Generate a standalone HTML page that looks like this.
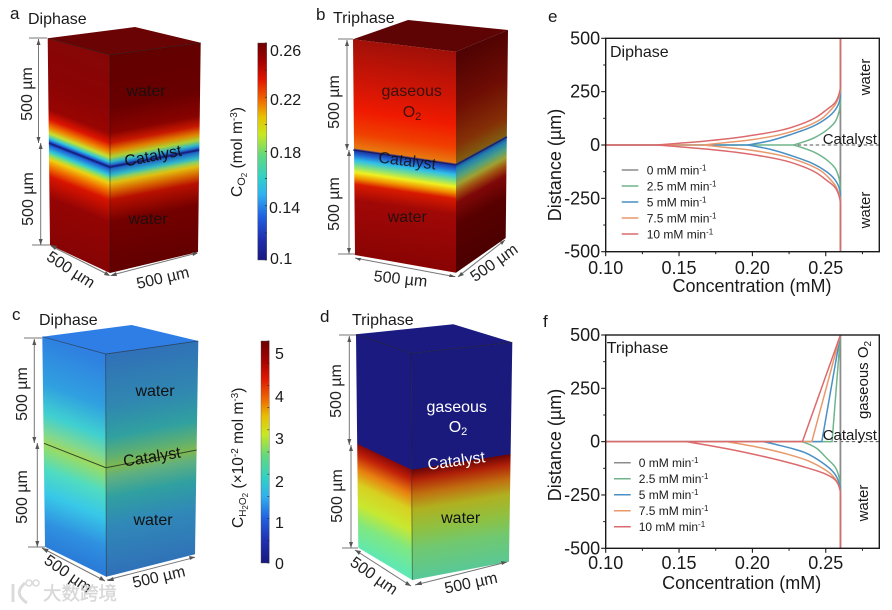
<!DOCTYPE html>
<html lang="en">
<head>
<meta charset="utf-8">
<title>Oxygen and peroxide concentration profiles</title>
<style>
html,body{margin:0;padding:0;background:#fff;}
svg{display:block;font-family:"Liberation Sans","Noto Sans CJK SC",sans-serif;fill:#1a1a1a;filter:blur(.35px);}
.t16{font-size:16px}
.dim{font-size:16px;text-anchor:middle;fill:#222}
.lab{font-size:16px;text-anchor:middle;fill:#111}
.cb{font-size:16px;fill:#1a1a1a}
.edge{stroke:#1c1c1c;stroke-opacity:.65;stroke-width:.7;fill:none}
.arr{stroke:#777;stroke-width:1;fill:none}
.arrh{fill:#555}
</style>
</head>
<body>
<svg id="fig" xmlns="http://www.w3.org/2000/svg" width="892" height="610" viewBox="0 0 892 610">
<defs id="defs">
  <linearGradient id="cbar" x1="0" y1="0" x2="0" y2="1">
    <stop offset="0" stop-color="#6e0000"/><stop offset=".08" stop-color="#a00000"/><stop offset=".17" stop-color="#e01500"/>
    <stop offset=".27" stop-color="#f07000"/><stop offset=".34" stop-color="#e8c000"/><stop offset=".42" stop-color="#c8e820"/>
    <stop offset=".52" stop-color="#60d880"/><stop offset=".62" stop-color="#30d0c8"/><stop offset=".70" stop-color="#30b0f0"/>
    <stop offset=".80" stop-color="#2060e0"/><stop offset=".9" stop-color="#2030b0"/><stop offset="1" stop-color="#181880"/>
  </linearGradient>
</defs>

<!-- Panel a -->
<g>
  <text x="10" y="19" font-size="17">a</text>
  <text x="28" y="24" class="t16">Diphase</text>
  <polygon points="47.7,38.3 135,27 200.7,42.7 110,55" fill="#6a0303"/>
  <polygon points="47.7,38.3 110,55 110,273 50,245" fill="url(#aL)"/>
  <polygon points="110,55 200.7,42.7 198,252 110,273" fill="url(#aR)"/>
  <polyline class="edge" points="47.7,38.3 110,55 200.7,42.7"/>
  <line class="edge" x1="110" y1="55" x2="110" y2="273"/>
  <polyline points="49,143 110,167 199,150" fill="none" stroke="#14237f" stroke-width="1.4"/>
  <text x="146" y="96" class="lab" fill-opacity=".85">water</text>
  <text x="148" y="224" class="lab" fill-opacity=".85">water</text>
  <text class="lab" transform="translate(154,161) rotate(-11)">Catalyst</text>
  <g>
    <path class="arr" d="M29 38H47M32 245H50M38.5 39V143M40.7 143V245M51 246L109 275M112 275L197 253"/>
    <path class="arrh" d="M38.5 39l-2 6h4zM38.5 143l-2-6h4zM40.7 143l-2 6h4zM40.7 245l-2-6h4zM50 245l5 5 2-4zM110 276l-6-1 2-4zM110 276l6-4 1 4zM198 253l-6-1 1 4z"/>
    <text class="dim" transform="translate(32,94) rotate(-90)">500 µm</text>
    <text class="dim" transform="translate(33,199) rotate(-90)">500 µm</text>
    <text class="dim" transform="translate(68,274) rotate(33)">500 µm</text>
    <text class="dim" transform="translate(164,283) rotate(-13)">500 µm</text>
  </g>
</g>

<!-- Colorbar a -->
<g>
  <rect x="257.7" y="43" width="9" height="217" fill="url(#cbar)" stroke="#555" stroke-width=".4"/>
  <text x="270" y="56" class="cb">0.26</text>
  <text x="270" y="105" class="cb">0.22</text>
  <text x="270" y="158" class="cb">0.18</text>
  <text x="269" y="213" class="cb">0.14</text>
  <text x="270" y="264" class="cb">0.1</text>
  <text transform="translate(242,197) rotate(-90)" font-size="15.5">C<tspan font-size="11" dy="3">O</tspan><tspan font-size="8" dy="2">2</tspan><tspan dy="-5"> (mol m</tspan><tspan font-size="10" dy="-5">-3</tspan><tspan dy="5">)</tspan></text>
</g>

<!-- Panel b -->
<g>
  <text x="316" y="20" font-size="17">b</text>
  <text x="333" y="23" class="t16">Triphase</text>
  <polygon points="353,39.3 408,20 508,30 456,51.7" fill="#5e0404"/>
  <polygon points="353,39.3 456,51.7 456,272.7 355,255" fill="url(#bL)"/>
  <polygon points="456,51.7 508,30 505.7,238 456,272.7" fill="url(#bR)"/>
  <polyline points="353,150 456,165 507,137" fill="none" stroke="#1a1a60" stroke-width="1"/>
  <text x="411.7" y="96" class="lab" fill-opacity=".8">gaseous</text>
  <text x="412" y="117" class="lab" fill-opacity=".8">O<tspan font-size="11" dy="3">2</tspan></text>
  <text class="lab" transform="translate(406.7,166) rotate(7)" fill-opacity=".85">Catalyst</text>
  <text x="407.3" y="222" class="lab" fill-opacity=".85">water</text>
  <g>
    <path class="arr" d="M338 39H353M338 254H355M347 40V150M349 150V254M355 258L455 276.7M458 276.7L505 240"/>
    <path class="arrh" d="M347 40l-2 6h4zM347 150l-2-6h4zM349 150l-2 6h4zM349 254l-2-6h4zM355 258l6 0-1 3zM456 277l-6-3-1 3zM458 277l3-5 3 3zM505 240l-5 2 2 3z"/>
    <text class="dim" transform="translate(339,102) rotate(-90)">500 µm</text>
    <text class="dim" transform="translate(339,204) rotate(-90)">500 µm</text>
    <text class="dim" transform="translate(400,284) rotate(6)">500 µm</text>
    <text class="dim" transform="translate(497,267) rotate(-35)">500 µm</text>
  </g>
</g>

<!-- Panel c -->
<g>
  <text x="12" y="320" font-size="17">c</text>
  <text x="39" y="325" class="t16">Diphase</text>
  <polygon points="42.3,336.7 131.7,325 198.3,341 105.7,354" fill="#2f7ee6"/>
  <polygon points="42.3,336.7 105.7,354 106.3,576.7 45,546.7" fill="url(#cL)"/>
  <polygon points="105.7,354 198.3,341 195,554.3 106.3,576.7" fill="url(#cR)"/>
  <polyline class="edge" points="42.3,336.7 105.7,354 198.3,341"/>
  <line class="edge" x1="105.7" y1="354" x2="106.3" y2="576.7"/>
  <polyline points="44,443.3 106,467.7 196.7,450" fill="none" stroke="#2c4a2c" stroke-width="1"/>
  <text x="155" y="396" class="lab">water</text>
  <text x="153" y="525" class="lab">water</text>
  <text class="lab" transform="translate(152.7,462) rotate(-9)">Catalyst</text>
  <g>
    <path class="arr" d="M24 338H42M28 547H45M34.3 339V443M37.3 443V547M42 548L105 581M107 580L195 557.3"/>
    <path class="arrh" d="M34.3 339l-2 6h4zM34.3 443l-2-6h4zM37.3 443l-2 6h4zM37.3 547l-2-6h4zM41.7 548l5 5 2-4zM105 581l-6-1 2-4zM107 581l6-4 1 4zM195 557l-6-1 1 4z"/>
    <text class="dim" transform="translate(27,394) rotate(-90)">500 µm</text>
    <text class="dim" transform="translate(27,497) rotate(-90)">500 µm</text>
    <text class="dim" transform="translate(65,578) rotate(35)">500 µm</text>
    <text class="dim" transform="translate(160,582) rotate(-13)">500 µm</text>
  </g>
</g>

<!-- Colorbar c -->
<g>
  <rect x="261" y="341" width="8.3" height="222" fill="url(#cbar)" stroke="#555" stroke-width=".4"/>
  <text x="275" y="359" class="cb">5</text>
  <text x="275" y="402" class="cb">4</text>
  <text x="275" y="444" class="cb">3</text>
  <text x="275" y="487" class="cb">2</text>
  <text x="275" y="528" class="cb">1</text>
  <text x="275" y="569" class="cb">0</text>
  <text transform="translate(243,528) rotate(-90)" font-size="15.5">C<tspan font-size="10" dy="3">H</tspan><tspan font-size="8" dy="2">2</tspan><tspan font-size="10" dy="-2">O</tspan><tspan font-size="8" dy="2">2</tspan><tspan dy="-5"> (×10</tspan><tspan font-size="10" dy="-5">-2</tspan><tspan dy="5"> mol m</tspan><tspan font-size="10" dy="-5">-3</tspan><tspan dy="5">)</tspan></text>
</g>

<!-- Panel d -->
<g>
  <text x="320" y="322" font-size="17">d</text>
  <text x="352" y="325" class="t16">Triphase</text>
  <polygon points="356,334.3 453.3,324.3 512.3,342.3 411,353.3" fill="#1a1a80"/>
  <polygon points="356,334.3 411,353.3 412.3,580 358.3,547.7" fill="url(#dL)"/>
  <polygon points="411,353.3 512.3,342.3 509,561.7 412.3,580" fill="url(#dR)"/>
  <polyline class="edge" points="356,334.3 411,353.3 512.3,342.3"/>
  <line class="edge" x1="411" y1="353.3" x2="412.3" y2="580"/>
  <text x="456.7" y="412" class="lab" style="fill:#fff">gaseous</text>
  <text x="458" y="432" class="lab" style="fill:#fff">O<tspan font-size="11" dy="3">2</tspan></text>
  <text class="lab" transform="translate(457,466) rotate(-8)" style="fill:#fff">Catalyst</text>
  <text x="460.7" y="523" class="lab">water</text>
  <g>
    <path class="arr" d="M339 335H356M342 548H358M349.3 336V445M351 445V548M355 550L411 586M415 585L507 562"/>
    <path class="arrh" d="M349.3 336l-2 6h4zM349.3 445l-2-6h4zM351 445l-2 6h4zM351 548l-2-6h4zM355 550l4 5 2-4zM411 586l-6-1 2-4zM415 585l6-4 1 4zM507 562l-6-1 1 4z"/>
    <text class="dim" transform="translate(341,391) rotate(-90)">500 µm</text>
    <text class="dim" transform="translate(342,496) rotate(-90)">500 µm</text>
    <text class="dim" transform="translate(371,580) rotate(35)">500 µm</text>
    <text class="dim" transform="translate(472,588) rotate(-12)">500 µm</text>
  </g>
</g>

<!-- Watermark -->
<g opacity=".8">
  <path d="M13 584V602M25 583C17 590 17 596 27 603" fill="none" stroke="#d2d2d2" stroke-width="3"/>
  <circle cx="29" cy="583" r="3" fill="none" stroke="#d2d2d2" stroke-width="1.6"/>
  <circle cx="36" cy="583" r="3" fill="none" stroke="#d2d2d2" stroke-width="1.6"/>
  <text x="43" y="600" font-size="18.5" style="fill:#cfcfcf;stroke:#cfcfcf;stroke-width:.4">大数跨境</text>
</g>

<g id="chartE"></g>
<g id="chartF"></g>
</svg>

<script>
// ---------- Shared chart data ----------
const concentrationTicks = [0.10, 0.15, 0.20, 0.25];
const distanceTicks = [-500, -250, 0, 250, 500];
const rateLabels = ["0 mM min", "2.5 mM min", "5 mM min", "7.5 mM min", "10 mM min"];
const saturation = 0.26;

// ---------- Chart e: Diphase (symmetric about the catalyst) ----------
const diphaseDist25 = [0, 15, 35, 70, 110, 160, 200, 240, 500];
const diphaseConc25 = [0.228, 0.235, 0.2425, 0.2507, 0.2565, 0.2592, 0.2598, 0.26, 0.26];
const diphaseDist50 = [0, 20, 48, 85, 126, 165, 210, 270, 500];
const diphaseConc50 = [0.197, 0.212, 0.2257, 0.2405, 0.2507, 0.2565, 0.2595, 0.26, 0.26];
const diphaseDist75 = [0, 10, 25, 50, 85, 120, 150, 190, 240, 290, 500];
const diphaseConc75 = [0.1666, 0.18, 0.20, 0.22, 0.236, 0.2465, 0.2515, 0.2565, 0.2595, 0.26, 0.26];
const diphaseDist100 = [0, 8, 20, 40, 70, 100, 130, 165, 200, 250, 300, 500];
const diphaseConc100 = [0.135, 0.15, 0.17, 0.195, 0.22, 0.234, 0.2435, 0.2505, 0.2565, 0.2595, 0.26, 0.26];

// ---------- Chart f: Triphase (water side below catalyst, straight gas side above) ----------
const triphaseDist25 = [0, 15, 35, 78, 120, 170, 220, 250, 500];
const triphaseConc25 = [0.2336, 0.2395, 0.2445, 0.2507, 0.2565, 0.2592, 0.2598, 0.26, 0.26];
const triphaseDist50 = [0, 15, 35, 60, 114, 155, 205, 260, 500];
const triphaseConc50 = [0.2075, 0.217, 0.2285, 0.2385, 0.2507, 0.2565, 0.2595, 0.26, 0.26];
const triphaseDist75 = [0, 15, 35, 60, 90, 137, 175, 220, 270, 500];
const triphaseConc75 = [0.1825, 0.195, 0.21, 0.2245, 0.238, 0.2507, 0.2565, 0.2595, 0.26, 0.26];
const triphaseDist100 = [0, 15, 35, 58, 85, 117, 148, 180, 220, 270, 500];
const triphaseConc100 = [0.155, 0.168, 0.184, 0.20, 0.217, 0.2345, 0.2485, 0.2565, 0.2595, 0.26, 0.26];
const triphaseInterface = [0.2543, 0.2473, 0.2405, 0.2341];

const lineColors = ["#8c8c8c", "#6fb58c", "#4a90c4", "#e8996c", "#dc6a6c"];
const SVGNS = "http://www.w3.org/2000/svg";

function el(tag, attrs, parent) {
  const n = document.createElementNS(SVGNS, tag);
  for (const k in attrs) n.setAttribute(k, attrs[k]);
  parent.appendChild(n);
  return n;
}

// ---------- Cube face gradients ----------
function grad(id, x0, y0, slope, stops) {
  const lo = stops[0][0], hi = stops[stops.length - 1][0];
  const g = el("linearGradient", {
    id: id, gradientUnits: "userSpaceOnUse", x1: 0, y1: lo, x2: 0, y2: hi,
    gradientTransform: "matrix(1," + slope + ",0,1,0," + (y0 - slope * x0) + ")"
  }, document.getElementById("defs"));
  stops.forEach(function (s) {
    el("stop", { offset: (s[0] - lo) / (hi - lo), "stop-color": s[1] }, g);
  });
}
grad("aL", 49, 143.3, 24 / 61, [[-110,"#860606"],[-60,"#8c0404"],[-34,"#980502"],[-24,"#dc1400"],[-16,"#f08000"],[-10,"#c8e030"],[-5,"#30c8d8"],[-2,"#2060d8"],[0,"#141c80"],[2,"#2060d8"],[8,"#30c8d8"],[12,"#90e060"],[16,"#f0d010"],[24,"#f07000"],[33,"#d81400"],[55,"#940404"],[110,"#850404"]]);
grad("aR", 110, 167, -17 / 89, [[-115,"#620000"],[-60,"#680000"],[-34,"#880300"],[-24,"#c81800"],[-16,"#e08000"],[-10,"#b0d030"],[-5,"#30b8c8"],[-2,"#2068c8"],[0,"#141c80"],[2,"#2068c8"],[8,"#30b8c8"],[12,"#90d060"],[16,"#e0c010"],[24,"#d86800"],[33,"#b81000"],[55,"#740000"],[110,"#600000"]]);
grad("bL", 353, 150, 15 / 103, [[-112,"#a01008"],[-67,"#d01505"],[-40,"#f01a00"],[-17,"#f04000"],[-2,"#e87a10"],[-.5,"#1a2a90"],[4,"#2060d0"],[10,"#30c0e8"],[16,"#80e080"],[22,"#f0f020"],[28,"#f09000"],[34,"#d81a00"],[50,"#a00806"],[105,"#8a0404"]]);
grad("bR", 456, 165, -28 / 51, [[-115,"#4c0202"],[-60,"#6e0c04"],[-20,"#843006"],[-2,"#805c10"],[-.5,"#203a90"],[4,"#2080b0"],[12,"#50a080"],[20,"#a0a030"],[28,"#a05010"],[38,"#800808"],[60,"#580000"],[110,"#4a0000"]]);
grad("cL", 44, 443.3, 24.4 / 62, [[-107,"#2f80e0"],[-60,"#30a0e0"],[-30,"#40d0d0"],[-10,"#80d890"],[0,"#a0d860"],[5,"#90dc70"],[25,"#50dcc0"],[50,"#38c8e8"],[80,"#2f90e0"],[105,"#2a7cd8"]]);
grad("cR", 106, 467.7, -17.7 / 90.7, [[-114,"#3070b8"],[-60,"#3088b0"],[-30,"#30a0a0"],[-10,"#60b070"],[0,"#80b850"],[10,"#60b080"],[30,"#30a0a0"],[60,"#3088b8"],[110,"#3070b8"]]);
grad("dL", 357.7, 444.3, 25.7 / 54, [[-110,"#1a1a80"],[-.5,"#1a1a80"],[0,"#8a0808"],[10,"#c02008"],[25,"#e88010"],[40,"#d8d020"],[60,"#c8e830"],[80,"#80e880"],[104,"#60e8b0"]]);
grad("dR", 411.7, 470, -15.7 / 99, [[-118,"#1a1a7c"],[-.5,"#1a1a7c"],[0,"#6a0505"],[10,"#b02008"],[25,"#c07010"],[40,"#b0b020"],[60,"#90c040"],[80,"#70c870"],[110,"#58c898"]]);

// ---------- Chart drawing ----------
function smoothPath(pts) {
  let d = "M" + pts[0][0].toFixed(2) + " " + pts[0][1].toFixed(2);
  for (let i = 0; i < pts.length - 1; i++) {
    const p0 = pts[Math.max(i - 1, 0)], p1 = pts[i], p2 = pts[i + 1], p3 = pts[Math.min(i + 2, pts.length - 1)];
    const c1x = p1[0] + (p2[0] - p0[0]) / 6, c1y = p1[1] + (p2[1] - p0[1]) / 6;
    const c2x = p2[0] - (p3[0] - p1[0]) / 6, c2y = p2[1] - (p3[1] - p1[1]) / 6;
    d += "C" + [c1x, c1y, c2x, c2y, p2[0], p2[1]].map(function (v) { return v.toFixed(2); }).join(" ");
  }
  return d;
}

function drawAxes(g, L, R, T, B, xOf, yOf, xBase, xTitleX, xTitleY, yTitleX, yTitleY) {
  const frame = el("rect", { x: L, y: T, width: R - L, height: B - T, fill: "none", stroke: "#1a1a1a", "stroke-width": 1.4 }, g);
  
  
  concentrationTicks.forEach(function (v) {
    const x = xOf(v);
    const t = el("line", { x1: x, x2: x, y1: B, y2: B + 4.5, stroke: "#1a1a1a", "stroke-width": 1.1 }, g);
    
    
    const m = el("line", { x1: xOf(v + 0.025), x2: xOf(v + 0.025), y1: B, y2: B + 2.5, stroke: "#1a1a1a", "stroke-width": 1 }, g);
    
    
    const lab = el("text", { x: x, y: xBase, "font-size": 18, "text-anchor": "middle" }, g);
    lab.textContent = v.toFixed(2);
    
    
  });
  distanceTicks.forEach(function (v, i) {
    const y = yOf(v);
    const t = el("line", { x1: L - 4.5, x2: L, y1: y, y2: y, stroke: "#1a1a1a", "stroke-width": 1.1 }, g);
    
    
    if (i < distanceTicks.length - 1) {
      const my = yOf(v + 125);
      const m = el("line", { x1: L - 2.5, x2: L, y1: my, y2: my, stroke: "#1a1a1a", "stroke-width": 1 }, g);
      
      
    }
    const lab = el("text", { x: L - 5.5, y: y + 6, "font-size": 18, "text-anchor": "end" }, g);
    lab.textContent = String(v);
    
    
  });
  const xt = el("text", { x: xTitleX, y: xTitleY, "font-size": 18, "text-anchor": "middle" }, g);
  xt.textContent = "Concentration (mM)";
  
  
  const yt = el("text", { transform: "translate(" + yTitleX + "," + yTitleY + ") rotate(-90)", "font-size": 18, "text-anchor": "middle" }, g);
  yt.textContent = "Distance (µm)";
  
  
}

function drawLegend(g, x1, x2, tx, first, step) {
  rateLabels.forEach(function (label, i) {
    const y = first + i * step;
    const ln = el("line", { x1: x1, x2: x2, y1: y, y2: y, stroke: lineColors[i], "stroke-width": 1.5 }, g);
    
    
    const t = el("text", { x: tx, y: y + 4.5, "font-size": 12 }, g);
    
    
    t.appendChild(document.createTextNode(label));
    const s = el("tspan", { "font-size": 8, dy: -4 }, t);
    s.textContent = "-1";
  });
}

function label(g, txt, x, y, rot, name, size) {
  const attrs = { "font-size": size || 15 };
  if (rot) { attrs.transform = "translate(" + x + "," + y + ") rotate(" + rot + ")"; attrs["text-anchor"] = "middle"; }
  else { attrs.x = x; attrs.y = y; }
  const t = el("text", attrs, g);
  t.textContent = txt;
  
  
  return t;
}

function addLine(g, d, color, name, width) {
  const p = el("path", { d: d, fill: "none", stroke: color, "stroke-width": width || 1.5, "stroke-linejoin": "round" }, g);
  
  
}

const X_MIN = 0.10, X_MAX = 0.2865;

// Chart e
(function () {
  const g = document.getElementById("chartE");
  const L = 605.7, R = 879.3, T = 38.3, B = 251.7;
  const xOf = function (v) { return L + (v - X_MIN) / (X_MAX - X_MIN) * (R - L); };
  const yOf = function (v) { return B - (v + 500) / 1000 * (B - T); };
  const dists = [diphaseDist25, diphaseDist50, diphaseDist75, diphaseDist100];
  const concs = [diphaseConc25, diphaseConc50, diphaseConc75, diphaseConc100];
  const dash = el("line", { x1: L, x2: R, y1: yOf(0), y2: yOf(0), stroke: "#555", "stroke-width": 1, "stroke-dasharray": "3.5 2.5" }, g);
  
  
  addLine(g, "M" + xOf(saturation) + " " + yOf(500) + "V" + yOf(-500), lineColors[0], "series-0-mm", 1.8);
  dists.forEach(function (ds, i) {
    const cs = concs[i];
    const col = lineColors[i + 1];
    const up = ds.map(function (d, k) { return [xOf(cs[k]), yOf(d)]; });
    const dn = ds.map(function (d, k) { return [xOf(cs[k]), yOf(-d)]; });
    addLine(g, smoothPath(up), col, "series-upper-branch");
    addLine(g, smoothPath(dn), col, "series-lower-branch");
    addLine(g, "M" + xOf(X_MIN) + " " + yOf(0) + "H" + xOf(cs[0]), col, "series-flat-segment");
  });
  drawAxes(g, L, R, T, B, xOf, yOf, 274, 752, 292, 561, 165);
  drawLegend(g, 621.7, 638.3, 646.7, 170, 16);
  label(g, "e", 548, 22, 0, "panel-letter-e", 17);
  label(g, "Diphase", 610, 57, 0, "chart-e-title", 16);
  label(g, "Catalyst", 822.7, 144, 0, "chart-e-catalyst-label", 15);
  label(g, "water", 870, 77, -90, "chart-e-water-top", 15);
  label(g, "water", 870, 210, -90, "chart-e-water-bottom", 15);
})();

// Chart f
(function () {
  const g = document.getElementById("chartF");
  const L = 605.7, R = 879.3, T = 335, B = 548.3;
  const xOf = function (v) { return L + (v - X_MIN) / (X_MAX - X_MIN) * (R - L); };
  const yOf = function (v) { return B - (v + 500) / 1000 * (B - T); };
  const dists = [triphaseDist25, triphaseDist50, triphaseDist75, triphaseDist100];
  const concs = [triphaseConc25, triphaseConc50, triphaseConc75, triphaseConc100];
  const dash = el("line", { x1: L, x2: R, y1: yOf(0), y2: yOf(0), stroke: "#555", "stroke-width": 1, "stroke-dasharray": "3.5 2.5" }, g);
  
  
  addLine(g, "M" + xOf(saturation) + " " + yOf(500) + "V" + yOf(-500), lineColors[0], "series-0-mm", 1.8);
  dists.forEach(function (ds, i) {
    const cs = concs[i];
    const col = lineColors[i + 1];
    const dn = ds.map(function (d, k) { return [xOf(cs[k]), yOf(-d)]; });
    addLine(g, smoothPath(dn), col, "series-water-branch");
    addLine(g, "M" + xOf(X_MIN) + " " + yOf(0) + "H" + xOf(triphaseInterface[i]) + "L" + xOf(saturation) + " " + yOf(500), col, "series-gas-branch");
  });
  drawAxes(g, L, R, T, B, xOf, yOf, 569, 741.7, 589, 561, 445);
  drawLegend(g, 614, 630.7, 638.7, 462.7, 16);
  label(g, "f", 543, 327, 0, "panel-letter-f", 17);
  label(g, "Triphase", 606.7, 353, 0, "chart-f-title", 16);
  label(g, "Catalyst", 822.7, 440, 0, "chart-f-catalyst-label", 15);
  const gas = label(g, "gaseous O", 868, 380, -90, "chart-f-gaseous-label", 15);
  const sub = el("tspan", { "font-size": 10, dy: 3 }, gas);
  sub.textContent = "2";
  label(g, "water", 868, 503, -90, "chart-f-water-label", 15);
})();

// Colorbar minor ticks
(function () {
  const svg = document.getElementById("fig");
  [[266.7, 43, 260, 8], [269.3, 341, 563, 10]].forEach(function (b) {
    for (let i = 0; i <= b[3]; i++) {
      const y = b[1] + (b[2] - b[1]) * i / b[3];
      const t = el("line", { x1: b[0] - 1.8, x2: b[0], y1: y, y2: y, stroke: "#222", "stroke-width": .7 }, svg);
      
      
    }
  });
})();
</script>
</body>
</html>
